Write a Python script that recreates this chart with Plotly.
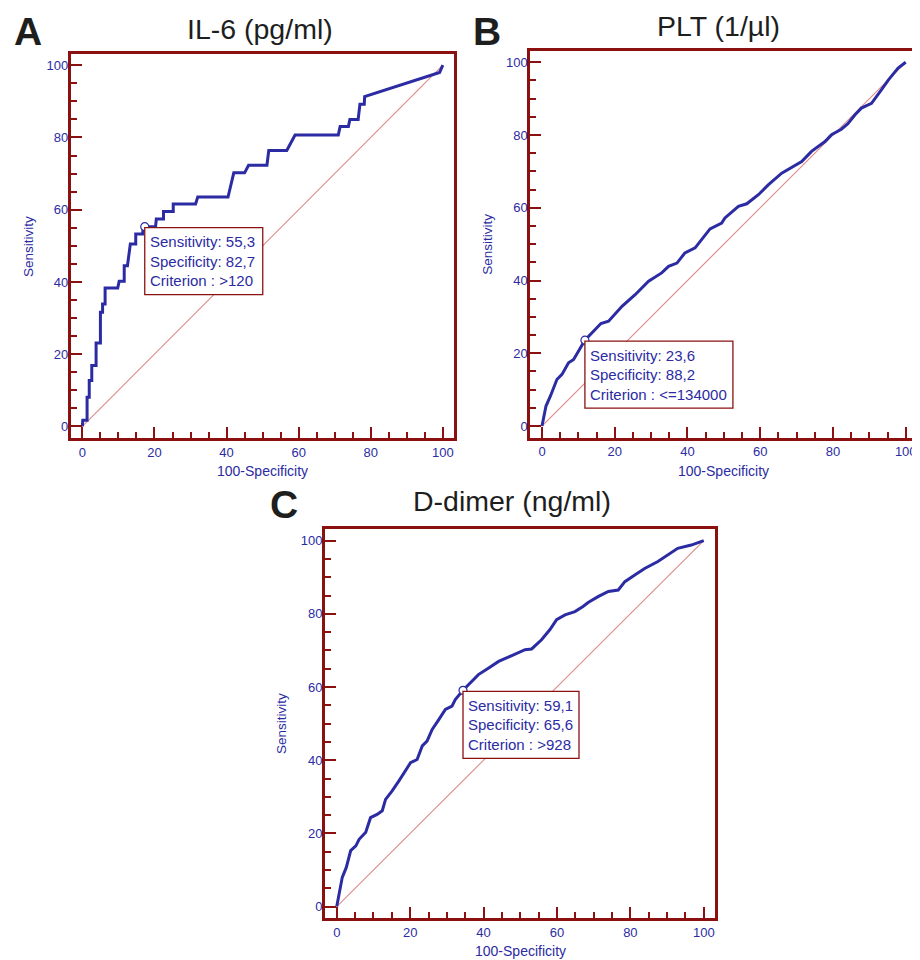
import plotly.graph_objects as go

# page is 920x960; the browser body adds an 8px margin round the figure
PAGE_W, PAGE_H = 920, 960
OFF = 8
W, H = PAGE_W - OFF, PAGE_H - OFF

# ---------------- data ----------------
titles = ["IL-6 (pg/ml)", "PLT (1/µl)", "D-dimer (ng/ml)"]
letters = ["A", "B", "C"]

il6_x = [0, 0.1, 1.3, 1.3, 1.9, 1.9, 2.6, 2.6, 3.8, 3.8, 5.0, 5.0, 5.6, 5.6, 6.3, 6.3,
         9.8, 10.2, 11.6, 11.6, 12.5, 13.3, 14.8, 14.8, 16.7, 16.9, 20.3, 20.5, 22.5,
         22.5, 25.2, 25.2, 31.4, 32.0, 40.4, 42.0, 45.0, 46.1, 51.2, 51.7, 56.7, 59.0,
         71.0, 71.5, 73.8, 74.2, 76.5, 77.0, 78.2, 78.3, 99.1, 100]
il6_y = [0, 1.7, 1.7, 8.1, 8.1, 12.7, 12.7, 16.9, 16.9, 23.1, 23.1, 31.6, 31.6, 33.9,
         33.9, 38.3, 38.3, 40.2, 40.2, 44.5, 44.5, 50.5, 50.5, 53.3, 53.3, 55.3, 55.3,
         57.4, 57.4, 59.5, 59.5, 61.6, 61.6, 63.5, 63.5, 70.2, 70.2, 72.3, 72.3, 76.4,
         76.4, 80.7, 80.7, 83.0, 83.0, 85.0, 85.0, 89.2, 89.2, 91.3, 98.0, 100]

plt_x = [0, 1.1, 2.3, 4.1, 5.5, 7.3, 8.7, 11.8, 13.7, 16.2, 18.3, 22.0, 25.6, 29.3,
         32.9, 34.8, 37.1, 39.3, 42.1, 46.2, 49.4, 50.3, 54.0, 56.3, 59.5, 62.2, 65.9,
         68.6, 71.4, 74.1, 75.9, 77.8, 79.6, 82.3, 84.1, 86.0, 87.8, 90.6, 93.3, 95.2,
         97.9, 100]
plt_y = [0, 5.5, 8.2, 12.8, 14.2, 17.4, 18.3, 23.6, 25.6, 28.2, 28.8, 32.9, 36.1, 39.8,
         42.1, 43.9, 44.8, 47.6, 49.0, 54.2, 55.8, 57.2, 60.4, 61.1, 63.6, 66.3, 69.5,
         71.1, 72.7, 75.5, 76.9, 78.2, 80.1, 81.6, 83.1, 85.5, 87.4, 88.7, 92.4, 95.1,
         98.4, 100]

dd_x = [0, 0.6, 1.5, 2.6, 3.8, 5.2, 6.1, 7.9, 9.2, 11.0, 12.4, 13.3, 15.1, 16.9, 18.7,
        20.1, 21.9, 23.3, 24.6, 26.0, 27.8, 29.6, 31.4, 32.3, 34.4, 35.9, 38.6, 41.4,
        44.1, 47.7, 51.3, 53.1, 55.8, 58.1, 59.9, 62.2, 64.9, 67.1, 68.5, 71.2, 74.0,
        76.7, 78.5, 81.2, 83.9, 87.5, 90.2, 92.9, 96.6, 98.8, 100]
dd_y = [0, 3.0, 8.0, 10.7, 15.3, 16.6, 18.4, 20.3, 24.3, 25.2, 26.2, 29.3, 31.6, 34.3,
        37.1, 39.3, 40.2, 43.9, 45.2, 48.4, 51.1, 53.9, 54.8, 56.6, 59.1, 60.7, 63.4,
        65.2, 67.0, 68.6, 70.2, 70.4, 72.9, 75.7, 78.4, 79.7, 80.6, 82.0, 83.1, 84.7,
        86.1, 86.5, 88.8, 90.6, 92.4, 94.3, 96.1, 97.9, 98.8, 99.7, 100]

# optimal cut-off: (100-specificity, sensitivity)
cut_x = [17.3, 11.8, 34.4]
cut_y = [55.3, 23.6, 59.1]
cut_sens = ["55,3", "23,6", "59,1"]
cut_spec = ["82,7", "88,2", "65,6"]
cut_crit = [">120", "<=134000", ">928"]

tick_vals = [0, 20, 40, 60, 80, 100]
tick_text = ["0", "20", "40", "60", "80", "100"]

# ---------------- layout geometry (pixels of the 920x960 page) ----------------
frames = [(71, 455, 54, 438), (531.5, 919, 51, 437.7), (325.7, 716.7, 529.3, 918.3)]
box_w = [118, 148, 116]
title_pos = [(261, 41.5), (720, 38.5), (513, 513)]
letter_pos = [(13, 8.5), (473, 8.5), (270, 481.5)]   # top edge of letter box

DARKRED = "#8b1010"
BLUE = "#2b2ba3"
FONT = "Liberation Sans, Arial, sans-serif"


def px(x):
    return (x - OFF) / W


def py(y):
    return 1 - (y - OFF) / H


xs = [il6_x, plt_x, dd_x]
ys = [il6_y, plt_y, dd_y]

fig = go.Figure()
layout = dict(
    width=W, height=H, margin=dict(l=0, r=0, t=0, b=0),
    paper_bgcolor="white", plot_bgcolor="white", showlegend=False,
    font=dict(family=FONT, color=BLUE),
)
annotations = []
shapes = []

for i in range(3):
    sfx = "" if i == 0 else str(i + 1)
    xa, ya = "x" + sfx, "y" + sfx
    l, r, t, b = frames[i]
    axis_common = dict(
        range=[-3.2, 103.1], tickvals=tick_vals, ticktext=tick_text,
        ticks="inside", ticklen=11, tickwidth=2, tickcolor=DARKRED,
        minor=dict(dtick=5, ticks="inside", ticklen=6, tickwidth=1.5, tickcolor=DARKRED),
        showline=True, linecolor=DARKRED, linewidth=3, mirror=True,
        showgrid=False, zeroline=False, fixedrange=True,
        tickfont=dict(family=FONT, size=13, color=BLUE),
    )
    layout["xaxis" + sfx] = dict(axis_common, domain=[px(l), px(r)], anchor=ya)
    layout["yaxis" + sfx] = dict(axis_common, domain=[py(b), py(t)], anchor=xa,
                                 ticklabelstandoff=-3)

    # diagonal reference line
    fig.add_trace(go.Scatter(x=[0, 100], y=[0, 100], mode="lines",
                             line=dict(color="#dc8a8a", width=1.1),
                             xaxis=xa, yaxis=ya, hoverinfo="skip"))
    # ROC curve
    fig.add_trace(go.Scatter(x=xs[i], y=ys[i], mode="lines",
                             line=dict(color=BLUE, width=3),
                             xaxis=xa, yaxis=ya))
    # cut-off marker
    fig.add_trace(go.Scatter(x=[cut_x[i]], y=[cut_y[i]], mode="markers",
                             marker=dict(symbol="circle", size=8, color="white",
                                         line=dict(color=BLUE, width=1.2)),
                             xaxis=xa, yaxis=ya))
    # box around the cut-off text
    shapes.append(dict(type="rect", xref=xa, yref=ya,
                       xsizemode="pixel", ysizemode="pixel",
                       xanchor=cut_x[i], yanchor=cut_y[i],
                       x0=0, x1=box_w[i], y0=-1, y1=-68,
                       line=dict(color=DARKRED, width=1.3), fillcolor="white",
                       layer="above"))
    lines = ["Sensitivity: " + cut_sens[i], "Specificity: " + cut_spec[i],
             "Criterion : " + cut_crit[i]]
    for k, txt in enumerate(lines):
        annotations.append(dict(x=cut_x[i], y=cut_y[i], xref=xa, yref=ya,
                                text=txt, showarrow=False, xanchor="left",
                                yanchor="middle", xshift=3, yshift=-(15 + 19.5 * k),
                                font=dict(family=FONT, size=15, color=BLUE)))
    # title and panel letter
    annotations.append(dict(x=px(title_pos[i][0]), y=py(title_pos[i][1]), xref="paper",
                            yref="paper", text=titles[i], showarrow=False,
                            xanchor="center", yanchor="bottom", yshift=-6,
                            font=dict(family=FONT, size=28.5, color="#1e1e1e")))
    annotations.append(dict(x=px(letter_pos[i][0]), y=py(letter_pos[i][1]),
                            xref="paper", yref="paper", borderpad=0,
                            text="<b>" + letters[i] + "</b>", showarrow=False,
                            xanchor="left", yanchor="top",
                            font=dict(family=FONT, size=39, color="#1e1e1e")))
    # axis titles
    annotations.append(dict(x=px((l + r) / 2), y=py(b + 33), xref="paper", yref="paper",
                            text="100-Specificity", showarrow=False,
                            xanchor="center", yanchor="middle",
                            font=dict(family=FONT, size=14, color=BLUE)))
    annotations.append(dict(x=px(l - 43), y=py((t + b) / 2), xref="paper", yref="paper",
                            text="Sensitivity", showarrow=False, textangle=-90,
                            xanchor="center", yanchor="middle",
                            font=dict(family=FONT, size=13.5, color=BLUE)))

layout["annotations"] = annotations
layout["shapes"] = shapes
fig.update_layout(**layout)
fig.write_html("out.html")
